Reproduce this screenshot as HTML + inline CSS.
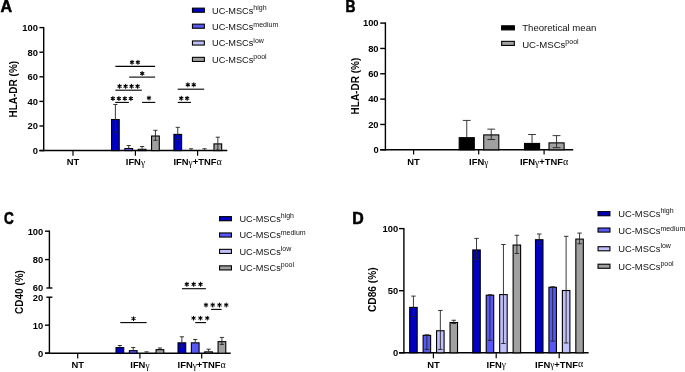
<!DOCTYPE html>
<html><head><meta charset="utf-8"><style>
html,body{margin:0;padding:0;background:#fff;width:685px;height:372px;overflow:hidden}
svg{display:block;font-family:"Liberation Sans", sans-serif}
</style></head><body>
<svg width="685" height="372" viewBox="0 0 685 372">
<defs><filter id="bl" x="0" y="0" width="100%" height="100%" filterUnits="userSpaceOnUse"><feGaussianBlur stdDeviation="0.35"/></filter></defs>
<rect x="0" y="0" width="685" height="372" fill="#fff"/>
<g filter="url(#bl)">
<rect x="0" y="0" width="685" height="372" fill="#fff"/>
<text transform="translate(0.55,11.5) scale(1.0,1)" font-size="16.1" font-weight="bold" stroke="#000" stroke-width="0.55">A</text>
<line x1="43.70" y1="26.90" x2="43.70" y2="151.30" stroke="#000" stroke-width="1.4"/>
<line x1="39.40" y1="150.60" x2="43.70" y2="150.60" stroke="#000" stroke-width="1.4"/>
<text x="38.00" y="153.90" font-size="9.4" font-weight="bold" text-anchor="end" fill="#000" >0</text>
<line x1="39.40" y1="126.00" x2="43.70" y2="126.00" stroke="#000" stroke-width="1.4"/>
<text x="38.00" y="129.30" font-size="9.4" font-weight="bold" text-anchor="end" fill="#000" >20</text>
<line x1="39.40" y1="101.40" x2="43.70" y2="101.40" stroke="#000" stroke-width="1.4"/>
<text x="38.00" y="104.70" font-size="9.4" font-weight="bold" text-anchor="end" fill="#000" >40</text>
<line x1="39.40" y1="76.80" x2="43.70" y2="76.80" stroke="#000" stroke-width="1.4"/>
<text x="38.00" y="80.10" font-size="9.4" font-weight="bold" text-anchor="end" fill="#000" >60</text>
<line x1="39.40" y1="52.20" x2="43.70" y2="52.20" stroke="#000" stroke-width="1.4"/>
<text x="38.00" y="55.50" font-size="9.4" font-weight="bold" text-anchor="end" fill="#000" >80</text>
<line x1="39.40" y1="27.60" x2="43.70" y2="27.60" stroke="#000" stroke-width="1.4"/>
<text x="38.00" y="30.90" font-size="9.4" font-weight="bold" text-anchor="end" fill="#000" >100</text>
<line x1="39.40" y1="150.60" x2="227.30" y2="150.60" stroke="#000" stroke-width="1.5"/>
<line x1="73.00" y1="150.60" x2="73.00" y2="155.80" stroke="#000" stroke-width="1.2"/>
<text x="73.00" y="165.10" font-size="9.4" font-weight="bold" text-anchor="middle" fill="#000" >NT</text>
<line x1="135.40" y1="150.60" x2="135.40" y2="155.80" stroke="#000" stroke-width="1.2"/>
<text x="135.40" y="165.10" font-size="9.4" font-weight="bold" text-anchor="middle" fill="#000" >IFN<tspan font-weight="normal" font-family="Liberation Serif" font-size="9.3" dy="0.8">γ</tspan></text>
<line x1="197.60" y1="150.60" x2="197.60" y2="155.80" stroke="#000" stroke-width="1.2"/>
<text x="197.60" y="165.10" font-size="9.4" font-weight="bold" text-anchor="middle" fill="#000" >IFN<tspan font-weight="normal" font-family="Liberation Serif" font-size="9.3" dy="0.8">γ</tspan><tspan dy="-0.8">+TNF</tspan><tspan font-weight="normal" font-family="Liberation Serif" font-size="10" dy="-0.2">α</tspan></text>
<text transform="translate(17.3,89.2) rotate(-90)" font-size="10" font-weight="bold" text-anchor="middle">HLA-DR (%)</text>
<rect x="111.52" y="119.54" width="7.70" height="31.06" fill="#0000c4" stroke="#000" stroke-width="1.1"/>
<line x1="115.38" y1="104.47" x2="115.38" y2="132.27" stroke="#222" stroke-width="0.9"/>
<line x1="113.28" y1="104.47" x2="117.47" y2="104.47" stroke="#222" stroke-width="0.9"/>
<line x1="113.28" y1="132.27" x2="117.47" y2="132.27" stroke="#222" stroke-width="0.9"/>
<rect x="124.87" y="148.57" width="7.70" height="2.03" fill="#5858f6" stroke="#000" stroke-width="1.1"/>
<line x1="128.72" y1="145.56" x2="128.72" y2="148.02" stroke="#222" stroke-width="0.9"/>
<line x1="126.62" y1="145.56" x2="130.82" y2="145.56" stroke="#222" stroke-width="0.9"/>
<rect x="138.23" y="149.31" width="7.70" height="1.29" fill="#c0c0fc" stroke="#000" stroke-width="1.1"/>
<line x1="142.08" y1="146.54" x2="142.08" y2="148.75" stroke="#222" stroke-width="0.9"/>
<line x1="139.98" y1="146.54" x2="144.18" y2="146.54" stroke="#222" stroke-width="0.9"/>
<rect x="151.58" y="136.02" width="7.70" height="14.58" fill="#a0a0a0" stroke="#000" stroke-width="1.1"/>
<line x1="155.43" y1="130.31" x2="155.43" y2="140.27" stroke="#222" stroke-width="0.9"/>
<line x1="153.33" y1="130.31" x2="157.53" y2="130.31" stroke="#222" stroke-width="0.9"/>
<line x1="153.33" y1="140.27" x2="157.53" y2="140.27" stroke="#222" stroke-width="0.9"/>
<rect x="173.93" y="134.42" width="7.70" height="16.18" fill="#0000c4" stroke="#000" stroke-width="1.1"/>
<line x1="177.78" y1="127.35" x2="177.78" y2="139.53" stroke="#222" stroke-width="0.9"/>
<line x1="175.68" y1="127.35" x2="179.88" y2="127.35" stroke="#222" stroke-width="0.9"/>
<line x1="175.68" y1="139.53" x2="179.88" y2="139.53" stroke="#222" stroke-width="0.9"/>
<rect x="187.28" y="150.78" width="7.70" height="0.00" fill="#5858f6" stroke="#000" stroke-width="1.1"/>
<line x1="191.12" y1="148.75" x2="191.12" y2="150.23" stroke="#222" stroke-width="0.9"/>
<line x1="189.03" y1="148.75" x2="193.22" y2="148.75" stroke="#222" stroke-width="0.9"/>
<rect x="200.63" y="150.78" width="7.70" height="0.00" fill="#c0c0fc" stroke="#000" stroke-width="1.1"/>
<line x1="204.48" y1="148.75" x2="204.48" y2="150.23" stroke="#222" stroke-width="0.9"/>
<line x1="202.38" y1="148.75" x2="206.58" y2="148.75" stroke="#222" stroke-width="0.9"/>
<rect x="213.98" y="143.89" width="7.70" height="6.71" fill="#a0a0a0" stroke="#000" stroke-width="1.1"/>
<line x1="217.83" y1="137.19" x2="217.83" y2="149.98" stroke="#222" stroke-width="0.9"/>
<line x1="215.73" y1="137.19" x2="219.93" y2="137.19" stroke="#222" stroke-width="0.9"/>
<line x1="215.73" y1="149.98" x2="219.93" y2="149.98" stroke="#222" stroke-width="0.9"/>
<line x1="115.40" y1="66.40" x2="155.10" y2="66.40" stroke="#000" stroke-width="1.1"/>
<path d="M132.05,60.35L132.05,64.25M130.36,61.32L133.74,63.27M130.36,63.27L133.74,61.32M137.95,60.35L137.95,64.25M136.26,61.32L139.64,63.27M136.26,63.27L139.64,61.32" stroke="#000" stroke-width="1.05" stroke-linecap="round" fill="none"/>
<line x1="129.20" y1="77.10" x2="155.10" y2="77.10" stroke="#000" stroke-width="1.1"/>
<path d="M142.20,71.45L142.20,75.35M140.51,72.43L143.89,74.38M140.51,74.38L143.89,72.43" stroke="#000" stroke-width="1.05" stroke-linecap="round" fill="none"/>
<line x1="115.40" y1="90.20" x2="141.80" y2="90.20" stroke="#000" stroke-width="1.1"/>
<path d="M119.60,84.25L119.60,88.15M117.91,85.23L121.29,87.17M117.91,87.17L121.29,85.23M125.60,84.25L125.60,88.15M123.91,85.23L127.29,87.17M123.91,87.17L127.29,85.23M131.60,84.25L131.60,88.15M129.91,85.23L133.29,87.17M129.91,87.17L133.29,85.23M137.60,84.25L137.60,88.15M135.91,85.23L139.29,87.17M135.91,87.17L139.29,85.23" stroke="#000" stroke-width="1.05" stroke-linecap="round" fill="none"/>
<line x1="115.20" y1="102.40" x2="128.90" y2="102.40" stroke="#000" stroke-width="1.1"/>
<path d="M112.90,96.55L112.90,100.45M111.21,97.53L114.59,99.47M111.21,99.47L114.59,97.53M118.90,96.55L118.90,100.45M117.21,97.53L120.59,99.47M117.21,99.47L120.59,97.53M124.90,96.55L124.90,100.45M123.21,97.53L126.59,99.47M123.21,99.47L126.59,97.53M130.90,96.55L130.90,100.45M129.21,97.53L132.59,99.47M129.21,99.47L132.59,97.53" stroke="#000" stroke-width="1.05" stroke-linecap="round" fill="none"/>
<line x1="142.00" y1="102.40" x2="155.30" y2="102.40" stroke="#000" stroke-width="1.1"/>
<path d="M149.00,96.05L149.00,99.95M147.31,97.03L150.69,98.97M147.31,98.97L150.69,97.03" stroke="#000" stroke-width="1.05" stroke-linecap="round" fill="none"/>
<line x1="177.70" y1="89.20" x2="204.20" y2="89.20" stroke="#000" stroke-width="1.1"/>
<path d="M187.85,82.75L187.85,86.65M186.16,83.73L189.54,85.67M186.16,85.67L189.54,83.73M193.75,82.75L193.75,86.65M192.06,83.73L195.44,85.67M192.06,85.67L195.44,83.73" stroke="#000" stroke-width="1.05" stroke-linecap="round" fill="none"/>
<line x1="177.70" y1="102.40" x2="191.00" y2="102.40" stroke="#000" stroke-width="1.1"/>
<path d="M181.25,96.25L181.25,100.15M179.56,97.23L182.94,99.17M179.56,99.17L182.94,97.23M187.15,96.25L187.15,100.15M185.46,97.23L188.84,99.17M185.46,99.17L188.84,97.23" stroke="#000" stroke-width="1.05" stroke-linecap="round" fill="none"/>
<rect x="192.45" y="8.15" width="11.90" height="4.10" fill="#0000c4" stroke="#000" stroke-width="1.1"/>
<text x="212.00" y="14.10" font-size="9.2" font-weight="normal" text-anchor="start" fill="#111" >UC-MSCs<tspan font-size="7.0" dy="-3.7">high</tspan></text>
<rect x="192.45" y="24.15" width="11.90" height="4.10" fill="#5858f6" stroke="#000" stroke-width="1.1"/>
<text x="212.00" y="30.30" font-size="9.2" font-weight="normal" text-anchor="start" fill="#111" >UC-MSCs<tspan font-size="7.0" dy="-3.7">medium</tspan></text>
<rect x="192.45" y="40.95" width="11.90" height="4.10" fill="#c0c0fc" stroke="#000" stroke-width="1.1"/>
<text x="212.00" y="46.30" font-size="9.2" font-weight="normal" text-anchor="start" fill="#111" >UC-MSCs<tspan font-size="7.0" dy="-3.7">low</tspan></text>
<rect x="192.45" y="57.35" width="11.90" height="4.10" fill="#a0a0a0" stroke="#000" stroke-width="1.1"/>
<text x="212.00" y="63.00" font-size="9.2" font-weight="normal" text-anchor="start" fill="#111" >UC-MSCs<tspan font-size="7.0" dy="-3.7">pool</tspan></text>
<text transform="translate(345.4,11.5) scale(0.86,1)" font-size="16.1" font-weight="bold" stroke="#000" stroke-width="0.55">B</text>
<line x1="385.40" y1="22.40" x2="385.40" y2="150.50" stroke="#000" stroke-width="1.4"/>
<line x1="380.20" y1="149.80" x2="385.40" y2="149.80" stroke="#000" stroke-width="1.4"/>
<text x="378.60" y="153.10" font-size="9.4" font-weight="bold" text-anchor="end" fill="#000" >0</text>
<line x1="380.20" y1="124.46" x2="385.40" y2="124.46" stroke="#000" stroke-width="1.4"/>
<text x="378.60" y="127.76" font-size="9.4" font-weight="bold" text-anchor="end" fill="#000" >20</text>
<line x1="380.20" y1="99.12" x2="385.40" y2="99.12" stroke="#000" stroke-width="1.4"/>
<text x="378.60" y="102.42" font-size="9.4" font-weight="bold" text-anchor="end" fill="#000" >40</text>
<line x1="380.20" y1="73.78" x2="385.40" y2="73.78" stroke="#000" stroke-width="1.4"/>
<text x="378.60" y="77.08" font-size="9.4" font-weight="bold" text-anchor="end" fill="#000" >60</text>
<line x1="380.20" y1="48.44" x2="385.40" y2="48.44" stroke="#000" stroke-width="1.4"/>
<text x="378.60" y="51.74" font-size="9.4" font-weight="bold" text-anchor="end" fill="#000" >80</text>
<line x1="380.20" y1="23.10" x2="385.40" y2="23.10" stroke="#000" stroke-width="1.4"/>
<text x="378.60" y="26.40" font-size="9.4" font-weight="bold" text-anchor="end" fill="#000" >100</text>
<line x1="380.20" y1="149.80" x2="573.20" y2="149.80" stroke="#000" stroke-width="1.5"/>
<line x1="413.60" y1="149.80" x2="413.60" y2="154.50" stroke="#000" stroke-width="1.2"/>
<text x="413.60" y="164.70" font-size="9.4" font-weight="bold" text-anchor="middle" fill="#000" >NT</text>
<line x1="478.70" y1="149.80" x2="478.70" y2="154.50" stroke="#000" stroke-width="1.2"/>
<text x="478.70" y="164.70" font-size="9.4" font-weight="bold" text-anchor="middle" fill="#000" >IFN<tspan font-weight="normal" font-family="Liberation Serif" font-size="9.3" dy="0.8">γ</tspan></text>
<line x1="544.10" y1="149.80" x2="544.10" y2="154.50" stroke="#000" stroke-width="1.2"/>
<text x="544.10" y="164.70" font-size="9.4" font-weight="bold" text-anchor="middle" fill="#000" >IFN<tspan font-weight="normal" font-family="Liberation Serif" font-size="9.3" dy="0.8">γ</tspan><tspan dy="-0.8">+TNF</tspan><tspan font-weight="normal" font-family="Liberation Serif" font-size="10" dy="-0.2">α</tspan></text>
<text transform="translate(358.7,86.1) rotate(-90)" font-size="10" font-weight="bold" text-anchor="middle">HLA-DR (%)</text>
<rect x="459.20" y="137.68" width="15.10" height="12.12" fill="#000000" stroke="#000" stroke-width="1.1"/>
<line x1="466.75" y1="120.41" x2="466.75" y2="137.13" stroke="#222" stroke-width="0.9"/>
<line x1="462.85" y1="120.41" x2="470.65" y2="120.41" stroke="#222" stroke-width="0.9"/>
<rect x="483.70" y="134.89" width="15.10" height="14.91" fill="#a0a0a0" stroke="#000" stroke-width="1.1"/>
<line x1="491.25" y1="129.15" x2="491.25" y2="139.54" stroke="#222" stroke-width="0.9"/>
<line x1="487.35" y1="129.15" x2="495.15" y2="129.15" stroke="#222" stroke-width="0.9"/>
<line x1="487.35" y1="139.54" x2="495.15" y2="139.54" stroke="#222" stroke-width="0.9"/>
<rect x="524.50" y="143.44" width="15.10" height="6.36" fill="#000000" stroke="#000" stroke-width="1.1"/>
<line x1="532.05" y1="134.53" x2="532.05" y2="142.89" stroke="#222" stroke-width="0.9"/>
<line x1="528.15" y1="134.53" x2="535.95" y2="134.53" stroke="#222" stroke-width="0.9"/>
<rect x="549.00" y="142.87" width="15.10" height="6.93" fill="#a0a0a0" stroke="#000" stroke-width="1.1"/>
<line x1="556.55" y1="135.61" x2="556.55" y2="147.65" stroke="#222" stroke-width="0.9"/>
<line x1="552.65" y1="135.61" x2="560.45" y2="135.61" stroke="#222" stroke-width="0.9"/>
<line x1="552.65" y1="147.65" x2="560.45" y2="147.65" stroke="#222" stroke-width="0.9"/>
<rect x="501.65" y="25.80" width="12.70" height="4.10" fill="#000000" stroke="#000" stroke-width="1.1"/>
<text x="522.20" y="30.70" font-size="9.6" font-weight="normal" text-anchor="start" fill="#111" >Theoretical mean</text>
<rect x="501.65" y="41.35" width="12.70" height="4.10" fill="#a0a0a0" stroke="#000" stroke-width="1.1"/>
<text x="522.20" y="47.80" font-size="9.6" font-weight="normal" text-anchor="start" fill="#111" >UC-MSCs<tspan font-size="7.0" dy="-3.7">pool</tspan></text>
<text transform="translate(4.1,223.5) scale(0.845,1)" font-size="16.1" font-weight="bold" stroke="#000" stroke-width="0.55">C</text>
<line x1="49.40" y1="230.50" x2="49.40" y2="288.00" stroke="#000" stroke-width="1.4"/>
<line x1="49.40" y1="297.20" x2="49.40" y2="353.90" stroke="#000" stroke-width="1.4"/>
<line x1="45.00" y1="231.20" x2="49.40" y2="231.20" stroke="#000" stroke-width="1.4"/>
<text x="43.30" y="234.50" font-size="9.4" font-weight="bold" text-anchor="end" fill="#000" >100</text>
<line x1="45.00" y1="259.60" x2="49.40" y2="259.60" stroke="#000" stroke-width="1.4"/>
<text x="43.30" y="262.90" font-size="9.4" font-weight="bold" text-anchor="end" fill="#000" >80</text>
<line x1="46.40" y1="288.00" x2="52.40" y2="288.00" stroke="#000" stroke-width="1.4"/>
<text x="43.30" y="291.30" font-size="9.4" font-weight="bold" text-anchor="end" fill="#000" >60</text>
<line x1="46.40" y1="297.20" x2="52.40" y2="297.20" stroke="#000" stroke-width="1.4"/>
<text x="43.30" y="300.50" font-size="9.4" font-weight="bold" text-anchor="end" fill="#000" >20</text>
<line x1="45.00" y1="325.20" x2="49.40" y2="325.20" stroke="#000" stroke-width="1.4"/>
<text x="43.30" y="328.50" font-size="9.4" font-weight="bold" text-anchor="end" fill="#000" >10</text>
<line x1="45.00" y1="353.20" x2="49.40" y2="353.20" stroke="#000" stroke-width="1.4"/>
<text x="43.30" y="356.50" font-size="9.4" font-weight="bold" text-anchor="end" fill="#000" >0</text>
<line x1="45.00" y1="353.20" x2="230.70" y2="353.20" stroke="#000" stroke-width="1.5"/>
<line x1="77.70" y1="353.20" x2="77.70" y2="358.50" stroke="#000" stroke-width="1.2"/>
<text x="77.70" y="368.20" font-size="9.4" font-weight="bold" text-anchor="middle" fill="#000" >NT</text>
<line x1="139.90" y1="353.20" x2="139.90" y2="358.50" stroke="#000" stroke-width="1.2"/>
<text x="139.90" y="368.20" font-size="9.4" font-weight="bold" text-anchor="middle" fill="#000" >IFN<tspan font-weight="normal" font-family="Liberation Serif" font-size="9.3" dy="0.8">γ</tspan></text>
<line x1="201.70" y1="353.20" x2="201.70" y2="358.50" stroke="#000" stroke-width="1.2"/>
<text x="201.70" y="368.20" font-size="9.4" font-weight="bold" text-anchor="middle" fill="#000" >IFN<tspan font-weight="normal" font-family="Liberation Serif" font-size="9.3" dy="0.8">γ</tspan><tspan dy="-0.8">+TNF</tspan><tspan font-weight="normal" font-family="Liberation Serif" font-size="10" dy="-0.2">α</tspan></text>
<text transform="translate(23.2,292) rotate(-90)" font-size="10" font-weight="bold" text-anchor="middle">CD40 (%)</text>
<rect x="116.02" y="347.65" width="7.70" height="5.55" fill="#0000c4" stroke="#000" stroke-width="1.1"/>
<line x1="119.88" y1="345.50" x2="119.88" y2="347.10" stroke="#222" stroke-width="0.9"/>
<line x1="117.78" y1="345.50" x2="121.97" y2="345.50" stroke="#222" stroke-width="0.9"/>
<rect x="129.38" y="350.67" width="7.70" height="2.53" fill="#5858f6" stroke="#000" stroke-width="1.1"/>
<line x1="133.22" y1="347.46" x2="133.22" y2="350.12" stroke="#222" stroke-width="0.9"/>
<line x1="131.12" y1="347.46" x2="135.32" y2="347.46" stroke="#222" stroke-width="0.9"/>
<rect x="142.73" y="353.61" width="7.70" height="0.00" fill="#c0c0fc" stroke="#000" stroke-width="1.1"/>
<line x1="146.58" y1="351.80" x2="146.58" y2="353.06" stroke="#222" stroke-width="0.9"/>
<line x1="144.48" y1="351.80" x2="148.68" y2="351.80" stroke="#222" stroke-width="0.9"/>
<rect x="156.08" y="349.66" width="7.70" height="3.54" fill="#a0a0a0" stroke="#000" stroke-width="1.1"/>
<line x1="159.93" y1="347.99" x2="159.93" y2="349.11" stroke="#222" stroke-width="0.9"/>
<line x1="157.83" y1="347.99" x2="162.03" y2="347.99" stroke="#222" stroke-width="0.9"/>
<rect x="178.03" y="342.83" width="7.70" height="10.37" fill="#0000c4" stroke="#000" stroke-width="1.1"/>
<line x1="181.88" y1="336.79" x2="181.88" y2="346.76" stroke="#222" stroke-width="0.9"/>
<line x1="179.78" y1="336.79" x2="183.97" y2="336.79" stroke="#222" stroke-width="0.9"/>
<line x1="179.78" y1="346.76" x2="183.97" y2="346.76" stroke="#222" stroke-width="0.9"/>
<rect x="191.38" y="342.83" width="7.70" height="10.37" fill="#5858f6" stroke="#000" stroke-width="1.1"/>
<line x1="195.22" y1="339.48" x2="195.22" y2="342.28" stroke="#222" stroke-width="0.9"/>
<line x1="193.12" y1="339.48" x2="197.32" y2="339.48" stroke="#222" stroke-width="0.9"/>
<rect x="204.73" y="351.85" width="7.70" height="1.35" fill="#c0c0fc" stroke="#000" stroke-width="1.1"/>
<line x1="208.58" y1="349.20" x2="208.58" y2="351.30" stroke="#222" stroke-width="0.9"/>
<line x1="206.48" y1="349.20" x2="210.68" y2="349.20" stroke="#222" stroke-width="0.9"/>
<rect x="218.08" y="341.65" width="7.70" height="11.55" fill="#a0a0a0" stroke="#000" stroke-width="1.1"/>
<line x1="221.93" y1="337.41" x2="221.93" y2="344.41" stroke="#222" stroke-width="0.9"/>
<line x1="219.83" y1="337.41" x2="224.03" y2="337.41" stroke="#222" stroke-width="0.9"/>
<line x1="219.83" y1="344.41" x2="224.03" y2="344.41" stroke="#222" stroke-width="0.9"/>
<line x1="120.30" y1="322.60" x2="146.60" y2="322.60" stroke="#000" stroke-width="1.1"/>
<path d="M133.50,316.65L133.50,320.55M131.81,317.62L135.19,319.58M131.81,319.58L135.19,317.62" stroke="#000" stroke-width="1.05" stroke-linecap="round" fill="none"/>
<line x1="182.00" y1="288.70" x2="205.90" y2="288.70" stroke="#000" stroke-width="1.1"/>
<path d="M186.85,282.25L186.85,286.15M185.16,283.22L188.54,285.18M185.16,285.18L188.54,283.22M193.70,282.25L193.70,286.15M192.01,283.22L195.39,285.18M192.01,285.18L195.39,283.22M200.55,282.25L200.55,286.15M198.86,283.22L202.24,285.18M198.86,285.18L202.24,283.22" stroke="#000" stroke-width="1.05" stroke-linecap="round" fill="none"/>
<line x1="195.20" y1="322.60" x2="206.00" y2="322.60" stroke="#000" stroke-width="1.1"/>
<path d="M193.55,316.15L193.55,320.05M191.86,317.12L195.24,319.08M191.86,319.08L195.24,317.12M200.40,316.15L200.40,320.05M198.71,317.12L202.09,319.08M198.71,319.08L202.09,317.12M207.25,316.15L207.25,320.05M205.56,317.12L208.94,319.08M205.56,319.08L208.94,317.12" stroke="#000" stroke-width="1.05" stroke-linecap="round" fill="none"/>
<line x1="211.10" y1="309.40" x2="221.60" y2="309.40" stroke="#000" stroke-width="1.1"/>
<path d="M205.97,303.05L205.97,306.95M204.29,304.02L207.66,305.98M204.29,305.98L207.66,304.02M212.72,303.05L212.72,306.95M211.04,304.02L214.41,305.98M211.04,305.98L214.41,304.02M219.47,303.05L219.47,306.95M217.79,304.02L221.16,305.98M217.79,305.98L221.16,304.02M226.22,303.05L226.22,306.95M224.54,304.02L227.91,305.98M224.54,305.98L227.91,304.02" stroke="#000" stroke-width="1.05" stroke-linecap="round" fill="none"/>
<rect x="219.55" y="216.65" width="11.90" height="4.10" fill="#0000c4" stroke="#000" stroke-width="1.1"/>
<text x="239.40" y="221.90" font-size="9.2" font-weight="normal" text-anchor="start" fill="#111" >UC-MSCs<tspan font-size="7.0" dy="-3.7">high</tspan></text>
<rect x="219.55" y="232.95" width="11.90" height="4.10" fill="#5858f6" stroke="#000" stroke-width="1.1"/>
<text x="239.40" y="238.20" font-size="9.2" font-weight="normal" text-anchor="start" fill="#111" >UC-MSCs<tspan font-size="7.0" dy="-3.7">medium</tspan></text>
<rect x="219.55" y="249.35" width="11.90" height="4.10" fill="#c0c0fc" stroke="#000" stroke-width="1.1"/>
<text x="239.40" y="254.50" font-size="9.2" font-weight="normal" text-anchor="start" fill="#111" >UC-MSCs<tspan font-size="7.0" dy="-3.7">low</tspan></text>
<rect x="219.55" y="265.85" width="11.90" height="4.10" fill="#a0a0a0" stroke="#000" stroke-width="1.1"/>
<text x="239.40" y="271.10" font-size="9.2" font-weight="normal" text-anchor="start" fill="#111" >UC-MSCs<tspan font-size="7.0" dy="-3.7">pool</tspan></text>
<text transform="translate(352.2,223.8) scale(0.99,1)" font-size="16.1" font-weight="bold" stroke="#000" stroke-width="0.55">D</text>
<line x1="403.90" y1="227.90" x2="403.90" y2="353.50" stroke="#000" stroke-width="1.4"/>
<line x1="399.00" y1="352.80" x2="403.90" y2="352.80" stroke="#000" stroke-width="1.4"/>
<text x="398.20" y="356.00" font-size="9.4" font-weight="bold" text-anchor="end" fill="#000" >0</text>
<line x1="399.00" y1="290.70" x2="403.90" y2="290.70" stroke="#000" stroke-width="1.4"/>
<text x="398.20" y="293.90" font-size="9.4" font-weight="bold" text-anchor="end" fill="#000" >50</text>
<line x1="399.00" y1="228.60" x2="403.90" y2="228.60" stroke="#000" stroke-width="1.4"/>
<text x="398.20" y="231.80" font-size="9.4" font-weight="bold" text-anchor="end" fill="#000" >100</text>
<line x1="399.00" y1="352.80" x2="588.60" y2="352.80" stroke="#000" stroke-width="1.5"/>
<line x1="433.40" y1="352.80" x2="433.40" y2="358.30" stroke="#000" stroke-width="1.2"/>
<text x="433.40" y="367.60" font-size="9.4" font-weight="bold" text-anchor="middle" fill="#000" >NT</text>
<line x1="496.20" y1="352.80" x2="496.20" y2="358.30" stroke="#000" stroke-width="1.2"/>
<text x="496.20" y="367.60" font-size="9.4" font-weight="bold" text-anchor="middle" fill="#000" >IFN<tspan font-weight="normal" font-family="Liberation Serif" font-size="9.3" dy="0.8">γ</tspan></text>
<line x1="559.20" y1="352.80" x2="559.20" y2="358.30" stroke="#000" stroke-width="1.2"/>
<text x="559.20" y="367.60" font-size="9.4" font-weight="bold" text-anchor="middle" fill="#000" >IFN<tspan font-weight="normal" font-family="Liberation Serif" font-size="9.3" dy="0.8">γ</tspan><tspan dy="-0.8">+TNF</tspan><tspan font-weight="normal" font-family="Liberation Serif" font-size="10" dy="-0.2">α</tspan></text>
<text transform="translate(376.3,289.7) rotate(-90)" font-size="10.2" font-weight="bold" text-anchor="middle">CD86 (%)</text>
<rect x="409.68" y="307.40" width="7.50" height="45.40" fill="#0000c4" stroke="#000" stroke-width="1.1"/>
<line x1="413.43" y1="296.10" x2="413.43" y2="316.53" stroke="#222" stroke-width="0.9"/>
<line x1="411.18" y1="296.10" x2="415.68" y2="296.10" stroke="#222" stroke-width="0.9"/>
<line x1="411.18" y1="316.53" x2="415.68" y2="316.53" stroke="#222" stroke-width="0.9"/>
<rect x="423.12" y="335.34" width="7.50" height="17.46" fill="#5858f6" stroke="#000" stroke-width="1.1"/>
<line x1="426.88" y1="334.79" x2="426.88" y2="349.45" stroke="#222" stroke-width="0.9"/>
<line x1="424.62" y1="334.79" x2="429.12" y2="334.79" stroke="#222" stroke-width="0.9"/>
<line x1="424.62" y1="349.45" x2="429.12" y2="349.45" stroke="#222" stroke-width="0.9"/>
<rect x="436.58" y="330.75" width="7.50" height="22.05" fill="#c0c0fc" stroke="#000" stroke-width="1.1"/>
<line x1="440.33" y1="310.45" x2="440.33" y2="349.45" stroke="#222" stroke-width="0.9"/>
<line x1="438.08" y1="310.45" x2="442.58" y2="310.45" stroke="#222" stroke-width="0.9"/>
<line x1="438.08" y1="349.45" x2="442.58" y2="349.45" stroke="#222" stroke-width="0.9"/>
<rect x="450.03" y="322.55" width="7.50" height="30.25" fill="#a0a0a0" stroke="#000" stroke-width="1.1"/>
<line x1="453.78" y1="320.26" x2="453.78" y2="323.49" stroke="#222" stroke-width="0.9"/>
<line x1="451.53" y1="320.26" x2="456.03" y2="320.26" stroke="#222" stroke-width="0.9"/>
<line x1="451.53" y1="323.49" x2="456.03" y2="323.49" stroke="#222" stroke-width="0.9"/>
<rect x="472.77" y="249.95" width="7.50" height="102.85" fill="#0000c4" stroke="#000" stroke-width="1.1"/>
<line x1="476.52" y1="238.41" x2="476.52" y2="259.40" stroke="#222" stroke-width="0.9"/>
<line x1="474.27" y1="238.41" x2="478.77" y2="238.41" stroke="#222" stroke-width="0.9"/>
<line x1="474.27" y1="259.40" x2="478.77" y2="259.40" stroke="#222" stroke-width="0.9"/>
<rect x="486.22" y="295.22" width="7.50" height="57.58" fill="#5858f6" stroke="#000" stroke-width="1.1"/>
<line x1="489.97" y1="294.67" x2="489.97" y2="340.38" stroke="#222" stroke-width="0.9"/>
<line x1="487.72" y1="294.67" x2="492.22" y2="294.67" stroke="#222" stroke-width="0.9"/>
<line x1="487.72" y1="340.38" x2="492.22" y2="340.38" stroke="#222" stroke-width="0.9"/>
<rect x="499.68" y="294.60" width="7.50" height="58.20" fill="#c0c0fc" stroke="#000" stroke-width="1.1"/>
<line x1="503.43" y1="244.50" x2="503.43" y2="343.49" stroke="#222" stroke-width="0.9"/>
<line x1="501.18" y1="244.50" x2="505.68" y2="244.50" stroke="#222" stroke-width="0.9"/>
<line x1="501.18" y1="343.49" x2="505.68" y2="343.49" stroke="#222" stroke-width="0.9"/>
<rect x="513.12" y="245.05" width="7.50" height="107.75" fill="#a0a0a0" stroke="#000" stroke-width="1.1"/>
<line x1="516.88" y1="235.31" x2="516.88" y2="253.44" stroke="#222" stroke-width="0.9"/>
<line x1="514.62" y1="235.31" x2="519.12" y2="235.31" stroke="#222" stroke-width="0.9"/>
<line x1="514.62" y1="253.44" x2="519.12" y2="253.44" stroke="#222" stroke-width="0.9"/>
<rect x="535.48" y="239.71" width="7.50" height="113.09" fill="#0000c4" stroke="#000" stroke-width="1.1"/>
<line x1="539.23" y1="234.00" x2="539.23" y2="243.75" stroke="#222" stroke-width="0.9"/>
<line x1="536.98" y1="234.00" x2="541.48" y2="234.00" stroke="#222" stroke-width="0.9"/>
<line x1="536.98" y1="243.75" x2="541.48" y2="243.75" stroke="#222" stroke-width="0.9"/>
<rect x="548.92" y="287.28" width="7.50" height="65.52" fill="#5858f6" stroke="#000" stroke-width="1.1"/>
<line x1="552.67" y1="286.73" x2="552.67" y2="341.13" stroke="#222" stroke-width="0.9"/>
<line x1="550.42" y1="286.73" x2="554.92" y2="286.73" stroke="#222" stroke-width="0.9"/>
<line x1="550.42" y1="341.13" x2="554.92" y2="341.13" stroke="#222" stroke-width="0.9"/>
<rect x="562.38" y="290.50" width="7.50" height="62.30" fill="#c0c0fc" stroke="#000" stroke-width="1.1"/>
<line x1="566.12" y1="236.30" x2="566.12" y2="342.99" stroke="#222" stroke-width="0.9"/>
<line x1="563.88" y1="236.30" x2="568.38" y2="236.30" stroke="#222" stroke-width="0.9"/>
<line x1="563.88" y1="342.99" x2="568.38" y2="342.99" stroke="#222" stroke-width="0.9"/>
<rect x="575.82" y="239.09" width="7.50" height="113.71" fill="#a0a0a0" stroke="#000" stroke-width="1.1"/>
<line x1="579.57" y1="233.07" x2="579.57" y2="243.75" stroke="#222" stroke-width="0.9"/>
<line x1="577.32" y1="233.07" x2="581.82" y2="233.07" stroke="#222" stroke-width="0.9"/>
<line x1="577.32" y1="243.75" x2="581.82" y2="243.75" stroke="#222" stroke-width="0.9"/>
<rect x="598.05" y="211.65" width="11.90" height="4.10" fill="#0000c4" stroke="#000" stroke-width="1.1"/>
<text x="618.20" y="217.10" font-size="9.4" font-weight="normal" text-anchor="start" fill="#111" >UC-MSCs<tspan font-size="7.0" dy="-3.7">high</tspan></text>
<rect x="598.05" y="228.00" width="11.90" height="4.10" fill="#5858f6" stroke="#000" stroke-width="1.1"/>
<text x="618.20" y="234.20" font-size="9.4" font-weight="normal" text-anchor="start" fill="#111" >UC-MSCs<tspan font-size="7.0" dy="-3.7">medium</tspan></text>
<rect x="598.05" y="246.70" width="11.90" height="4.10" fill="#c0c0fc" stroke="#000" stroke-width="1.1"/>
<text x="618.20" y="252.00" font-size="9.4" font-weight="normal" text-anchor="start" fill="#111" >UC-MSCs<tspan font-size="7.0" dy="-3.7">low</tspan></text>
<rect x="598.05" y="264.20" width="11.90" height="4.10" fill="#a0a0a0" stroke="#000" stroke-width="1.1"/>
<text x="618.20" y="269.70" font-size="9.4" font-weight="normal" text-anchor="start" fill="#111" >UC-MSCs<tspan font-size="7.0" dy="-3.7">pool</tspan></text>
</g>
</svg>
</body></html>
